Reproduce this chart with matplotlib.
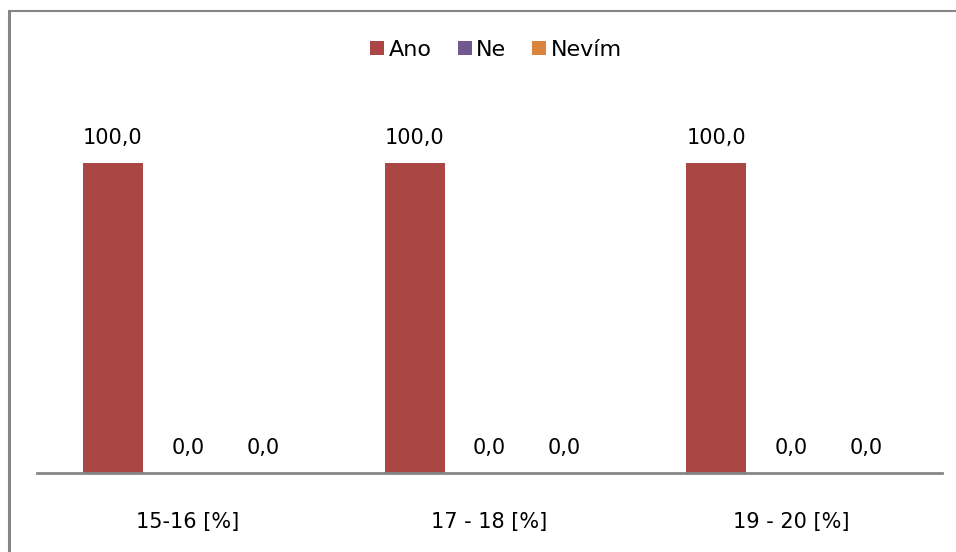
import matplotlib
matplotlib.use("Agg")
import matplotlib.pyplot as plt
from matplotlib.lines import Line2D
import numpy as np

# Data
categories = ["15-16 [%]", "17 - 18 [%]", "19 - 20 [%]"]
series_names = ["Ano", "Ne", "Nevím"]
ano = [100.0, 100.0, 100.0]
ne = [0.0, 0.0, 0.0]
nevim = [0.0, 0.0, 0.0]
colors = ["#AA4643", "#71588F", "#DB843D"]

W, H = 956, 552
fig = plt.figure(figsize=(W / 100, H / 100), dpi=100)
plt.rcParams["font.family"] = ["DejaVu Sans"]

ax_left, ax_right = 37 / W, 942 / W
ax_bottom = (H - 473) / H
ax_top = (H - 101) / H
ax = fig.add_axes([ax_left, ax_bottom, ax_right - ax_left, ax_top - ax_bottom])

x = np.arange(len(categories))
cat_px = (942 - 37) / 3
bar_w = 60 / cat_px
step = 75 / cat_px

series = [ano, ne, nevim]
for i, (name, vals, c) in enumerate(zip(series_names, series, colors)):
    pos = x + (i - 1) * step
    bars = ax.bar(pos, vals, width=bar_w, color=c, label=name, linewidth=0)
    for xp, v in zip(pos, vals):
        ax.annotate(f"{v:.1f}".replace(".", ","), (xp, v),
                    xytext=(0, 14), textcoords="offset points",
                    ha="center", va="baseline", fontsize=15, color="black")

ax.set_xlim(-0.5, len(categories) - 0.5)
ax.set_ylim(0, 120)
ax.set_xticks(x)
ax.set_xticklabels(categories, fontsize=15)
ax.tick_params(axis="x", length=0, pad=28)
ax.set_yticks([])
for s in ["top", "right", "left"]:
    ax.spines[s].set_visible(False)
ax.spines["bottom"].set_color("#868686")
ax.spines["bottom"].set_linewidth(2)
ax.patch.set_alpha(0)

leg = fig.legend(handles=[Line2D([], [], marker="s", linestyle="none", markersize=10,
                                 markerfacecolor=c, markeredgewidth=0, label=n)
                          for n, c in zip(series_names, colors)],
                 loc="center", bbox_to_anchor=(494 / W, 1 - 50 / H), ncol=3,
                 frameon=False, fontsize=16, handletextpad=0.0, columnspacing=1.0,
                 handlelength=1.0)

# Chart frame (left and top edges)
fig.add_artist(Line2D([9 / W, 9 / W], [0, 1 - 11 / H], transform=fig.transFigure,
                      color="#868686", linewidth=2.2, solid_capstyle="butt"))
fig.add_artist(Line2D([8 / W, 1], [1 - 11 / H, 1 - 11 / H], transform=fig.transFigure,
                      color="#868686", linewidth=1.5, solid_capstyle="butt"))

fig.savefig("out.png", dpi=100, facecolor="white")
